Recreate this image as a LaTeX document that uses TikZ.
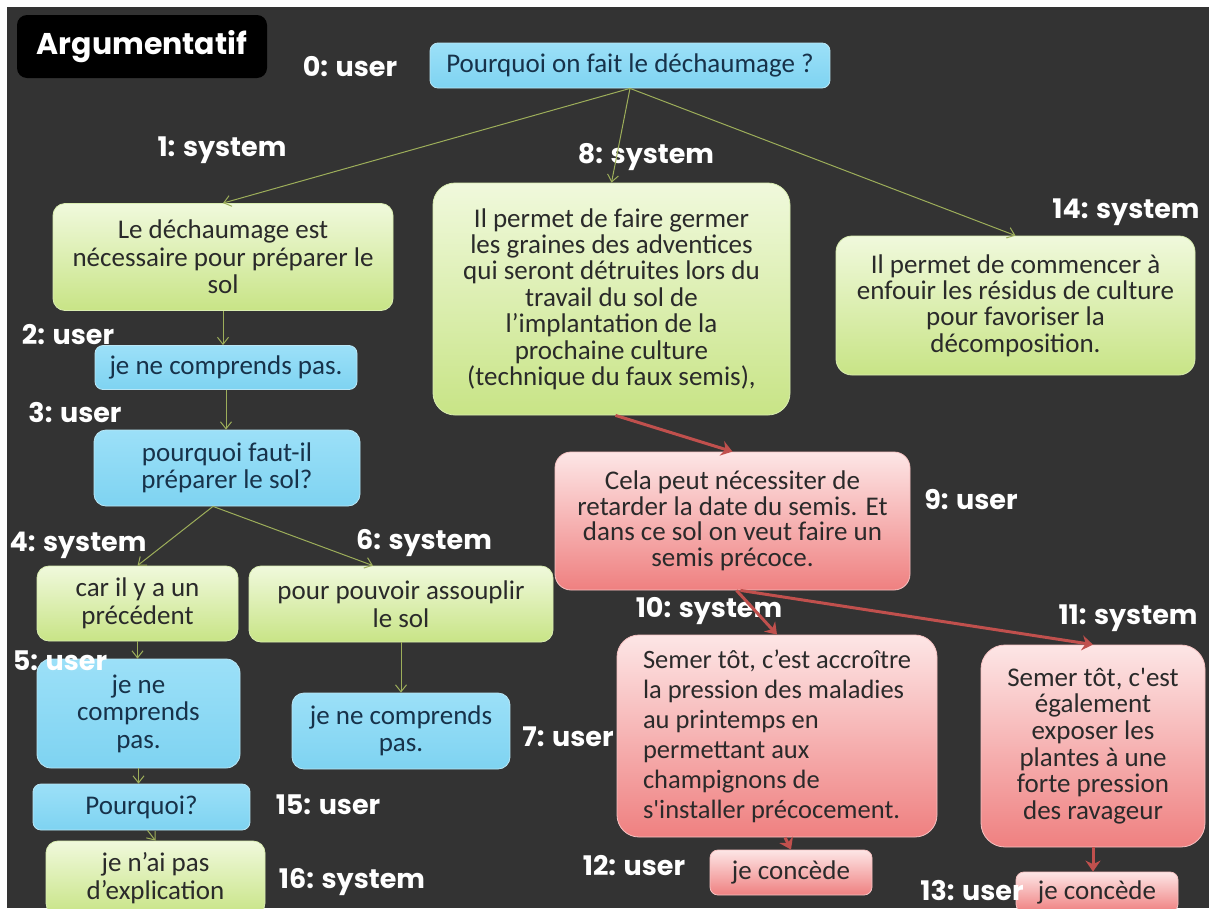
\documentclass[tikz,border=0pt]{standalone}
\usepackage{fontspec}
\setmainfont{Carlito}
\newfontfamily\labfont{Poppins}
\usetikzlibrary{arrows.meta}
\definecolor{bg}{HTML}{333333}
\definecolor{bluetop}{HTML}{9CE0F8}
\definecolor{bluebot}{HTML}{7ED3F1}
\definecolor{blueline}{HTML}{B9E6F5}
\definecolor{bluetext}{HTML}{17324A}
\definecolor{greentop}{HTML}{F0F9DC}
\definecolor{greenbot}{HTML}{C8E486}
\definecolor{greenline}{HTML}{D9EDB0}
\definecolor{pinktop}{HTML}{FDE6E6}
\definecolor{pinkbot}{HTML}{EF8080}
\definecolor{pinkline}{HTML}{F6C2C2}
\definecolor{boxtext}{HTML}{2A2A2A}
\definecolor{garrowc}{HTML}{9DAE5A}
\definecolor{rarrowc}{HTML}{C0504D}
\newcommand{\bxfont}[2]{\fontsize{#1}{#2}\selectfont\lineskiplimit=-30pt}
\begin{document}
\begin{tikzpicture}[x=1pt,y=-1pt,
  box/.style={rounded corners=12pt, align=center, inner sep=0pt, line width=0.8pt,
    font=\bxfont{27}{27.5}},
  bluebox/.style={box, draw=blueline, top color=bluetop, bottom color=bluebot, text=bluetext},
  greenbox/.style={box, draw=greenline, top color=greentop, bottom color=greenbot, text=boxtext},
  pinkbox/.style={box, draw=pinkline, top color=pinktop, bottom color=pinkbot, text=boxtext},
  lab/.style={text=white, inner sep=0pt, font=\labfont\bfseries\fontsize{27}{29}\selectfont},
  garrow/.style={draw=garrowc, line width=1pt, -{Straight Barb[length=7pt,width=11pt]}},
  rarrow/.style={draw=rarrowc, line width=3pt, -{Stealth[length=11pt,width=15pt]}}
]
\useasboundingbox (0,0) rectangle (1209,908);
\fill[white] (0,0) rectangle (1209,908);
\fill[bg] (7,7) rectangle (1209,908);

% title
\node[fill=black, rounded corners=10pt, minimum width=250pt, minimum height=63pt, inner sep=0pt,
  text=white, font=\labfont\bfseries\fontsize{30}{32}\selectfont] (title) at (142,46.5) {Argumentatif};

% boxes
\node[bluebox, rounded corners=8pt, minimum width=400pt, minimum height=45pt] (b0) at (630,65.5) {Pourquoi on fait le déchaumage ?};
\node[greenbox, minimum width=340pt, minimum height=107pt] (b1) at (223,257) {Le déchaumage est\\nécessaire pour préparer le\\sol};
\node[bluebox, rounded corners=8pt, minimum width=262pt, minimum height=44pt] (b2) at (226,367.5) {je ne comprends pas.};
\node[bluebox, minimum width=266pt, minimum height=76pt] (b3) at (227,468) {pourquoi faut-il\\préparer le sol?};
\node[greenbox, minimum width=201pt, minimum height=75pt] (b4) at (137.5,603.5) {car il y a un\\précédent};
\node[greenbox, minimum width=304pt, minimum height=76pt] (b6) at (401,604) {pour pouvoir assouplir\\le sol};
\node[bluebox, rounded corners=14pt, minimum width=203pt, minimum height=109pt] (b5) at (138.5,713.5) {je ne\\comprends\\pas.};
\node[bluebox, minimum width=218pt, minimum height=76pt] (b7) at (401,731) {je ne comprends\\pas.};
\node[bluebox, rounded corners=8pt, minimum width=217pt, minimum height=46pt] (b15) at (141.5,807) {Pourquoi?};
\node[greenbox, minimum width=219pt, minimum height=74pt] (b16) at (155.5,878) {je n’ai pas\\d’explication};
\node[greenbox, rounded corners=22pt, minimum width=357pt, minimum height=232pt, font=\bxfont{27}{26.4}] (b8) at (611.5,299)
  {Il permet de faire germer\\les graines des adventices\\qui seront détruites lors du\\travail du sol de\\l’implantation de la\\prochaine culture\\(technique du faux semis),};
\node[greenbox, rounded corners=16pt, minimum width=359pt, minimum height=139pt, font=\bxfont{27}{26.4}] (b14) at (1015.5,305.5)
  {Il permet de commencer à\\enfouir les résidus de culture\\pour favoriser la\\décomposition.};
\node[pinkbox, rounded corners=16pt, minimum width=355pt, minimum height=138pt, font=\bxfont{27}{25.5}] (b9) at (732.5,521)
  {Cela peut nécessiter de\\retarder la date du semis. Et\\dans ce sol on veut faire un\\semis précoce.};
\node[pinkbox, rounded corners=22pt, minimum width=320pt, minimum height=202pt, align=left, font=\bxfont{26.5}{30}] (b10) at (777,736)
  {Semer tôt, c’est accroître\\la pression des maladies\\au printemps en\\permettant aux\\champignons de\\s\textquotesingle installer précocement.};
\node[pinkbox, rounded corners=24pt, minimum width=224pt, minimum height=202pt, font=\bxfont{27}{26.7}] (b11) at (1093,746)
  {Semer tôt, c\textquotesingle est\\également\\exposer les\\plantes à une\\forte pression\\des ravageur};
\node[pinkbox, rounded corners=8pt, minimum width=162pt, minimum height=45pt] (b12) at (791,872.5) {je concède};
\node[pinkbox, rounded corners=8pt, minimum width=162pt, minimum height=40pt] (b13) at (1097,892) {je concède};

% labels
\node[lab] (l0) at (350,67) {0: user};
\node[lab] (l1) at (222,150) {1: system};
\node[lab] (l2) at (68,335) {2: user};
\node[lab] (l3) at (75,413) {3: user};
\node[lab] (l4) at (78,545) {4: system};
\node[lab] (l6) at (424,543) {6: system};
\node[lab] (l5) at (60,661) {5: user};
\node[lab] (l7) at (568,737) {7: user};
\node[lab] (l15) at (328,805) {15: user};
\node[lab] (l16) at (352,882) {16: system};
\node[lab] (l8) at (646,157) {8: system};
\node[lab] (l14) at (1126,212) {14: system};
\node[lab] (l9) at (971,500) {9: user};
\node[lab] (l10) at (709,611) {10: system};
\node[lab] (l11) at (1128,618) {11: system};
\node[lab] (l12) at (634,866) {12: user};
\node[lab] (l13) at (972,891) {13: user};

% green connectors
\draw[garrow] (b0.south) -- (b1.north);
\draw[garrow] (b0.south) -- (b8.north);
\draw[garrow] (b0.south) -- (b14.north);
\draw[garrow] (b1.south) -- (b1.south |- b2.north);
\draw[garrow] (b2.south) -- (b2.south |- b3.north);
\draw[garrow] ([xshift=-14pt]b3.south) -- (b4.north);
\draw[garrow] ([xshift=-14pt]b3.south) -- ([xshift=-28pt]b6.north);
\draw[garrow] (b4.south) -- (b4.south |- b5.north);
\draw[garrow] (b6.south) -- (b6.south |- b7.north);
\draw[garrow] (b5.south) -- (b5.south |- b15.north);
\draw[garrow] ([xshift=6pt]b15.south) -- (b16.north);

% red connectors
\draw[rarrow] ([xshift=4pt]b8.south) -- (b9.north);
\draw[rarrow] ([xshift=4pt]b9.south) -- (b10.north);
\draw[rarrow] ([xshift=8pt]b9.south) -- (b11.north);
\draw[rarrow] ([xshift=8pt]b10.south) -- (b12.north);
\draw[rarrow] (b11.south) -- (b11.south |- b13.north);
\end{tikzpicture}
\end{document}
